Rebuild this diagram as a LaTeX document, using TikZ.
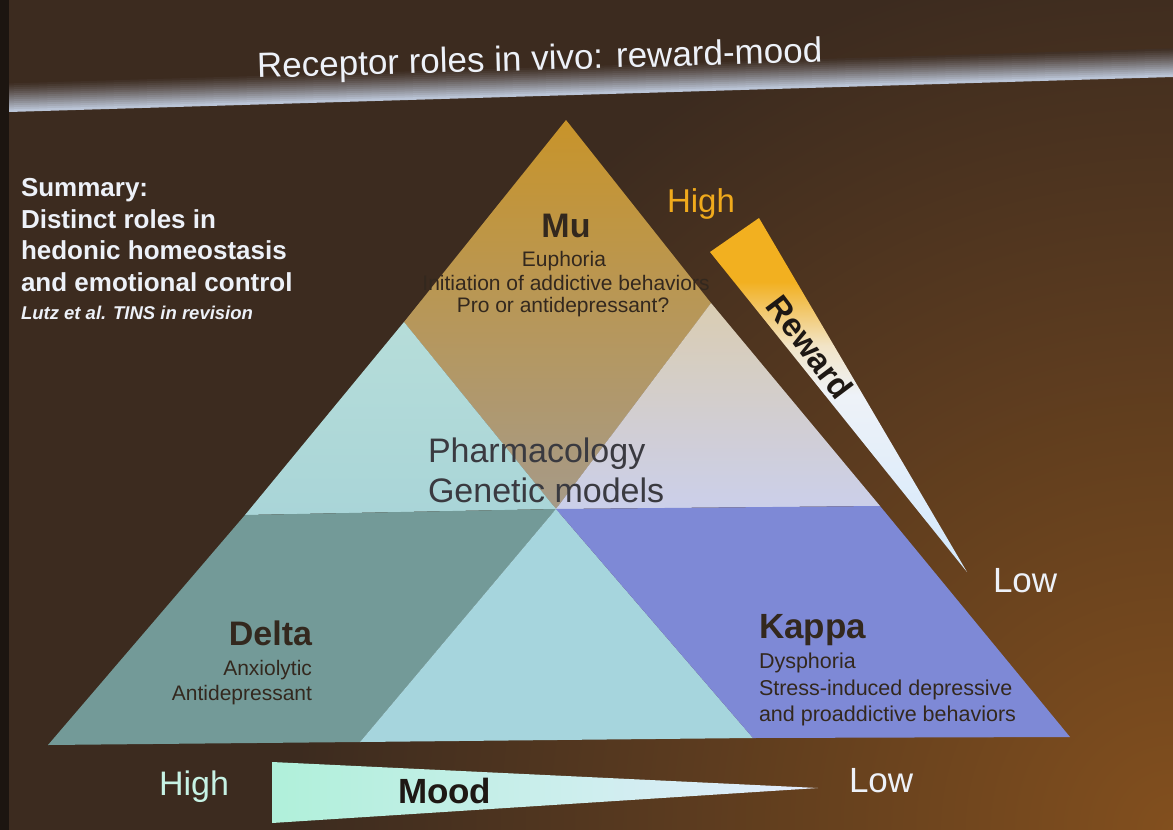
\documentclass[tikz,border=0pt]{standalone}
\usepackage{fontspec}
\setmainfont{Liberation Sans}
\usetikzlibrary{calc}

% slide background
\definecolor{bgbrown}{HTML}{3C2B1F}
\definecolor{bgglow}{HTML}{824F1E}
\definecolor{edgedark}{HTML}{1C1510}
\definecolor{bandlight}{HTML}{BAC4D6}
% triangle regions
\definecolor{underlay}{HTML}{8FA7AE}
\definecolor{mugold}{HTML}{C8942A}
\definecolor{mumid}{HTML}{BA8D3A}
\definecolor{mutan}{HTML}{A69A88}
\definecolor{cyantop}{HTML}{B6DDD9}
\definecolor{cyanleft}{HTML}{A9D5D8}
\definecolor{cyanlow}{HTML}{A6D5DD}
\definecolor{creamtop}{HTML}{DACDB2}
\definecolor{lavbottom}{HTML}{CBCFEA}
\definecolor{deltateal}{HTML}{739A98}
\definecolor{kappablue}{HTML}{7E89D6}
% gradient wedges
\definecolor{rworange}{HTML}{F2B020}
\definecolor{rwcream}{HTML}{F2E4C6}
\definecolor{rwwhite}{HTML}{EEF2F8}
\definecolor{rwtip}{HTML}{D2E8FC}
\definecolor{moodaqua}{HTML}{B0F0DA}
\definecolor{moodmid}{HTML}{D2F4F0}
\definecolor{moodpale}{HTML}{E4ECFD}
% text colours
\definecolor{inkdark}{HTML}{33281E}
\definecolor{inkgray}{HTML}{3A3A40}
\definecolor{inkblack}{HTML}{1E1814}
\definecolor{slidewhite}{HTML}{EDF1F8}
\definecolor{highorange}{HTML}{F0AA1C}
\definecolor{highcyan}{HTML}{C6F2E4}

% orange at the wide end, fading to pale blue at the tip
\pgfdeclareverticalshading{rewardfade}{100bp}{color(0bp)=(rwtip); color(25bp)=(rwtip); color(50bp)=(rwwhite); color(57bp)=(rwcream); color(66bp)=(rworange); color(100bp)=(rworange)}

\newcommand{\fs}[1]{\fontsize{#1}{#1}\selectfont}

\tikzset{
  txt/.style={inner sep=0pt, outer sep=0pt},
  slidetitle/.style={txt, anchor=base, text=slidewhite, font=\fs{35}},
  summary/.style={txt, anchor=base west, text=slidewhite, font=\bfseries\fs{26}},
  citation/.style={txt, anchor=base west, text=slidewhite, font=\bfseries\itshape\fs{18.5}},
  receptor/.style={txt, text=inkdark, font=\bfseries\fs{34}},
  effect/.style={txt, text=inkdark, font=\fs{21}},
  methods/.style={txt, anchor=base west, text=inkgray, font=\fs{34}},
  scaleword/.style={txt, anchor=base west, font=\fs{34}},
  axisname/.style={txt, text=inkblack, font=\bfseries\fs{34}}
}

\begin{document}
\begin{tikzpicture}[x=1pt, y=-1pt]
\useasboundingbox (0,0) rectangle (1173,830);

% ---------- background ----------
\fill[bgbrown] (0,0) rectangle (1173,830);
\begin{scope}
  \clip (0,0) rectangle (1173,830);
  \shade[inner color=bgglow, outer color=bgbrown] (1173,830) circle (880);
\end{scope}
\fill[edgedark] (0,0) rectangle (9,830);

% title band: sharp lower edge, fading upwards
\foreach \i in {13,12,...,0} {
  \pgfmathsetmacro\pct{100*(1-\i/14)^1.2}
  \fill[bandlight!\pct!bgbrown]
    (9,{112-2*\i}) -- (1173,{77-2*\i}) -- (1173,{77-2*\i-2.6}) -- (9,{112-2*\i-2.6}) -- cycle;
}
\node[slidetitle, rotate=1.6] (title) at (540,70) {Receptor roles in vivo: reward-mood};

% ---------- summary text ----------
\node[summary] (sum1) at (21,196) {Summary:};
\node[summary] (sum2) at (21,228) {Distinct roles in};
\node[summary] (sum3) at (21,259) {hedonic homeostasis};
\node[summary] (sum4) at (21,291) {and emotional control};
\node[citation] (cite) at (21,319) {Lutz et al. TINS in revision};

% ---------- receptor triangle ----------
\coordinate (A)  at (566,120);
\coordinate (L1) at (404,322);
\coordinate (R1) at (711,303);
\coordinate (C)  at (556,509);
\coordinate (L2) at (245,515);
\coordinate (R2) at (880,506);
\coordinate (BL) at (48,745);
\coordinate (B1) at (360,742);
\coordinate (B2) at (753,738);
\coordinate (BR) at (1070,737);

% underlay hides hairline seams between the regions
\fill[underlay] (C) +(-3,-3) rectangle +(3,3);
\shade[top color=mugold, middle color=mumid, bottom color=mutan] (A) -- (R1) -- (C) -- (L1) -- cycle;
\shade[top color=cyantop, bottom color=cyanleft] (L1) -- (C) -- (L2) -- cycle;
\shade[top color=creamtop, bottom color=lavbottom] (R1) -- (R2) -- (C) -- cycle;
\fill[deltateal] (L2) -- (C) -- (B1) -- (BL) -- cycle;
\fill[cyanlow] (C) -- (B2) -- (B1) -- cycle;
\fill[kappablue] (C) -- (R2) -- (BR) -- (B2) -- cycle;

% Mu
\node[receptor, anchor=base] (mu) at (566,237) {Mu};
\node[effect, anchor=base] (mu1) at (564,266) {Euphoria};
\node[effect, anchor=base] (mu2) at (566,290) {Initiation of addictive behaviors};
\node[effect, anchor=base] (mu3) at (563,312) {Pro or antidepressant?};

% centre
\node[methods] (pharm) at (428,462) {Pharmacology};
\node[methods] (genet) at (428,502) {Genetic models};

% Delta
\node[receptor, anchor=base east] (delta) at (312,645) {Delta};
\node[effect, anchor=base east] (delta1) at (312,675) {Anxiolytic};
\node[effect, anchor=base east] (delta2) at (312,700) {Antidepressant};

% Kappa
\node[receptor, anchor=base west, font=\bfseries\fs{35}] (kappa) at (759,638) {Kappa};
\node[effect, anchor=base west, font=\fs{21.5}] (kappa1) at (759,668) {Dysphoria};
\node[effect, anchor=base west, font=\fs{21.5}] (kappa2) at (759,695) {Stress-induced depressive};
\node[effect, anchor=base west, font=\fs{21.5}] (kappa3) at (759,721) {and proaddictive behaviors};

% ---------- reward scale ----------
\coordinate (W1) at (710,252);
\coordinate (W2) at (759,218);
\coordinate (W3) at (967,572);
\shade[shading=rewardfade] (W1) -- (W2) -- (W3) -- cycle;
\node[axisname, font=\bfseries\fs{33}, rotate=-53] (reward) at (810,347) {Reward};
\node[scaleword, text=highorange, font=\fs{33}] (rwhigh) at (667,212) {High};
\node[scaleword, text=slidewhite, font=\fs{35}] (rwlow) at (993,592) {Low};

% ---------- mood scale ----------
\coordinate (M1) at (272,762);
\coordinate (M2) at (272,823);
\coordinate (M3) at (818,788);
\shade[left color=moodaqua, middle color=moodmid, right color=moodpale] (M1) -- (M2) -- (M3) -- cycle;
\node[axisname, anchor=base west, font=\bfseries\fs{35}] (mood) at (398,803) {Mood};
\node[scaleword, text=highcyan] (mdhigh) at (159,795) {High};
\node[scaleword, text=slidewhite, font=\fs{35}] (mdlow) at (849,792) {Low};

\end{tikzpicture}
\end{document}
